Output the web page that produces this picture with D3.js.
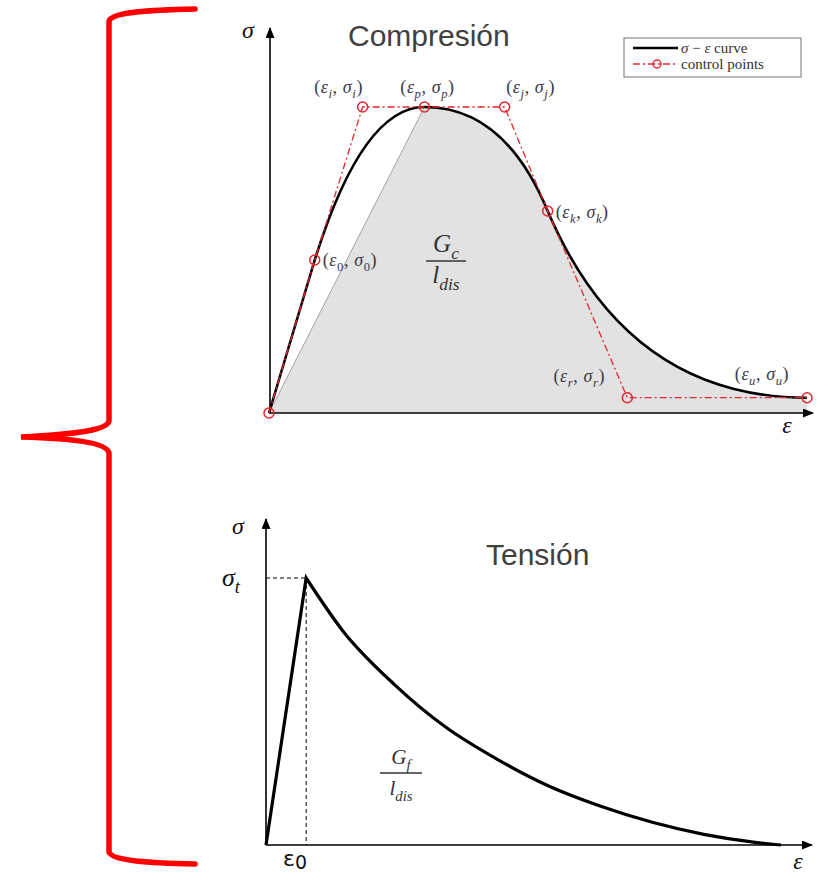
<meta charset="utf-8">
<title>Compresión / Tensión</title>
<style>body{margin:0;background:#fff}</style>
<body>
<script src="https://cdn.jsdelivr.net/npm/d3@7"></script>
<script>
//==================================================================
// data: compression control points (strain units, normalised stress)
var ctrlNames = ["", "0", "i", "p", "j", "k", "r", "u"];
var ctrlEps   = [0, 0.85, 1.74, 2.89, 4.38, 5.18, 6.66, 10];
var ctrlSig   = [0, 0.50, 1.00, 1.00, 1.00, 0.66, 0.05, 0.05];

// data: tension softening curve
var tenEps = [0, 0.78, 1.5, 2.5, 3.5, 4.5, 5.5, 6.5, 7.5, 8.5, 9.5, 10];
var tenSig = [0, 1, 0.80, 0.60, 0.44, 0.32, 0.22, 0.145, 0.085, 0.04, 0.01, 0];

var legendText = [["σ", " − ", "ε", " curve"], ["control points"]];
//==================================================================
var width = 820,
    height = 876;

var red = '#e4262e',
    serif = "'Liberation Serif', 'DejaVu Serif', serif",
    sans = "'Liberation Sans', Arial, sans-serif";

var svg = d3.select("body").append("svg")
    .attr("width", width)
    .attr("height", height)
    .style('display', 'block');

svg.append('defs').append('marker')
    .attr('id', 'arrow')
    .attr('markerUnits', 'userSpaceOnUse')
    .attr('markerWidth', 11).attr('markerHeight', 9)
    .attr('refX', 10).attr('refY', 4.5)
    .attr('orient', 'auto')
  .append('path')
    .attr('d', 'M0,0L11,4.5L0,9Z')
    .style('fill', 'black');

// writes a small math label: parts = [text, italic, subscript]
function mathText(g, x, y, size, anchor, parts, fill, spacing) {
  var t = g.append('text')
      .attr('x', x).attr('y', y)
      .attr('text-anchor', anchor)
      .style('font-family', serif)
      .style('font-size', size + 'px')
      .style('letter-spacing', (spacing || 0) + 'px')
      .style('fill', fill || '#333');
  var shift = 0;
  parts.forEach(function(p) {
    var dy = (p[2] ? size * 0.28 : 0) - shift;
    shift += dy;
    t.append('tspan')
      .attr('dy', dy)
      .style('font-style', p[1] ? 'italic' : 'normal')
      .style('font-size', (p[2] ? size * 0.7 : size) + 'px')
      .text(p[0]);
  });
  return t;
}

function fraction(g, cx, y, size, num, den, barW) {
  mathText(g, cx, y, size, 'middle', num, '#333');
  g.append('line')
    .attr('x1', cx - barW / 2).attr('x2', cx + barW / 2)
    .attr('y1', y + 9).attr('y2', y + 9)
    .style('stroke', '#333').style('stroke-width', 1.4);
  mathText(g, cx, y + 31, size, 'middle', den, '#333');
}

//brace=============================================================
svg.append('path')
    .attr('d', 'M195,9 C150,10 112,12 109,21 L109,421 C107,432 60,435 21,437 ' +
               'C60,438 107,441 109,453 L109,852 C112,861 150,863 195,864')
    .style('fill', 'none')
    .style('stroke', '#ff0000')
    .style('stroke-width', 5.5)
    .style('stroke-linecap', 'round');

//compression=======================================================
var xc = d3.scaleLinear().domain([0, 10]).range([269, 807]);
var yc = d3.scaleLinear().domain([0, 1]).range([413, 107]);
var gc = svg.append('g');

var P = ctrlEps.map(function(e, i) { return [xc(e), yc(ctrlSig[i])]; });

// shaded area: secant to peak, then the curve, back along the axis
var area = d3.path();
area.moveTo(P[0][0], P[0][1]);
area.lineTo(P[3][0], P[3][1]);
area.quadraticCurveTo(P[4][0], P[4][1], P[5][0], P[5][1]);
area.quadraticCurveTo(P[6][0], P[6][1], P[7][0], P[7][1]);
area.lineTo(P[7][0], yc(0));
area.closePath();
gc.append('path').attr('d', area.toString())
    .style('fill', '#e2e2e2');

gc.append('line')
    .attr('x1', P[0][0]).attr('y1', P[0][1])
    .attr('x2', P[3][0]).attr('y2', P[3][1])
    .style('stroke', '#9a9a9a').style('stroke-width', 0.9);

// axes
gc.append('line')
    .attr('x1', xc(0)).attr('y1', yc(0))
    .attr('x2', 813).attr('y2', yc(0))
    .attr('marker-end', 'url(#arrow)')
    .style('stroke', 'black').style('stroke-width', 1.6);
gc.append('line')
    .attr('x1', xc(0) + 1).attr('y1', yc(0))
    .attr('x2', xc(0) + 1).attr('y2', 28)
    .attr('marker-end', 'url(#arrow)')
    .style('stroke', 'black').style('stroke-width', 1.6);

// sigma-epsilon curve
var curve = d3.path();
curve.moveTo(P[0][0], P[0][1]);
curve.lineTo(P[1][0], P[1][1]);
curve.quadraticCurveTo(P[2][0], P[2][1], P[3][0], P[3][1]);
curve.quadraticCurveTo(P[4][0], P[4][1], P[5][0], P[5][1]);
curve.quadraticCurveTo(P[6][0], P[6][1], P[7][0], P[7][1]);
gc.append('path').attr('d', curve.toString())
    .style('fill', 'none')
    .style('stroke', 'black')
    .style('stroke-width', 2.6);

// control polygon
gc.append('path')
    .attr('d', d3.line()(P))
    .style('fill', 'none')
    .style('stroke', red)
    .style('stroke-width', 1.3)
    .style('stroke-dasharray', '7,3,2,3');
gc.selectAll('circle.cp')
    .data(P)
    .enter().append('circle')
    .attr('class', 'cp')
    .attr('cx', function(d) { return d[0]; })
    .attr('cy', function(d) { return d[1]; })
    .attr('r', 5)
    .style('fill', 'none')
    .style('stroke', red)
    .style('stroke-width', 1.5);

// point labels
var labelOff = {
  "0": [8, 6, 'start'], "i": [-24, -14, 'middle'], "p": [3, -14, 'middle'],
  "j": [26, -14, 'middle'], "k": [8, 7, 'start'], "r": [-48, -16, 'middle'],
  "u": [-45, -18, 'middle']
};
ctrlNames.forEach(function(n, i) {
  if (!n) return;
  var o = labelOff[n];
  var sub = n === "0" ? [n, false, true] : [n, true, true];
  mathText(gc, P[i][0] + o[0], P[i][1] + o[1], 18, o[2], [
    ['(', false], ['ε', true], sub, [', ', false], ['σ', true],
    n === "0" ? ['0', false, true] : [n, true, true], [')', false]
  ], '#3a3a48', 0.6);
});

fraction(gc, 446, 252, 25, [['G', true], ['c', true, true]],
         [['l', true], ['dis', true, true]], 40);

mathText(gc, 248, 38, 24, 'middle', [['σ', true]], '#111');
mathText(gc, 787, 433, 24, 'middle', [['ε', true]], '#111');

gc.append('text')
    .attr('x', 348).attr('y', 46)
    .style('font-family', sans)
    .style('font-size', '30px')
    .style('fill', '#404040')
    .text('Compresión');

// legend
var lg = gc.append('g').attr('transform', 'translate(624,38)');
lg.append('rect')
    .attr('width', 177).attr('height', 39)
    .style('fill', 'white')
    .style('stroke', '#8a8a8a').style('stroke-width', 1.2);
lg.append('line')
    .attr('x1', 9).attr('x2', 54).attr('y1', 10).attr('y2', 10)
    .style('stroke', 'black').style('stroke-width', 2.5);
lg.append('line')
    .attr('x1', 9).attr('x2', 54).attr('y1', 26).attr('y2', 26)
    .style('stroke', red).style('stroke-width', 1.3)
    .style('stroke-dasharray', '7,3,2,3');
lg.append('circle')
    .attr('cx', 33).attr('cy', 26).attr('r', 4)
    .style('fill', 'none').style('stroke', red).style('stroke-width', 1.4);
mathText(lg, 57, 15, 15, 'start', legendText[0].map(function(s, i) {
  return [s, i === 0 || i === 2];
}), '#333');
mathText(lg, 57, 31, 15, 'start', [[legendText[1][0], false]], '#333');

//tension===========================================================
var xt = d3.scaleLinear().domain([0, 10]).range([266, 781]);
var yt = d3.scaleLinear().domain([0, 1]).range([845, 578]);
var gt = svg.append('g');

// dashed guides to peak
gt.append('line')
    .attr('x1', xt(0)).attr('x2', xt(tenEps[1]))
    .attr('y1', yt(tenSig[1])).attr('y2', yt(tenSig[1]))
    .style('stroke', 'black').style('stroke-width', 1)
    .style('stroke-dasharray', '4,3');
gt.append('line')
    .attr('x1', xt(tenEps[1])).attr('x2', xt(tenEps[1]))
    .attr('y1', yt(tenSig[1])).attr('y2', yt(0))
    .style('stroke', 'black').style('stroke-width', 1)
    .style('stroke-dasharray', '4,3');

gt.append('line')
    .attr('x1', xt(0)).attr('y1', yt(0))
    .attr('x2', 812).attr('y2', yt(0))
    .attr('marker-end', 'url(#arrow)')
    .style('stroke', 'black').style('stroke-width', 1.6);
gt.append('line')
    .attr('x1', xt(0)).attr('y1', yt(0))
    .attr('x2', xt(0)).attr('y2', 519)
    .attr('marker-end', 'url(#arrow)')
    .style('stroke', 'black').style('stroke-width', 1.6);

var tenPts = tenEps.map(function(e, i) { return [xt(e), yt(tenSig[i])]; });
gt.append('path')
    .attr('d', d3.line()(tenPts.slice(0, 2)) +
               d3.line().curve(d3.curveMonotoneX)(tenPts.slice(1)).replace(/^M/, 'L'))
    .style('fill', 'none')
    .style('stroke', 'black')
    .style('stroke-width', 3.2)
    .style('stroke-linejoin', 'miter');

mathText(gt, 238, 534, 24, 'middle', [['σ', true]], '#111');
mathText(gt, 222, 586, 26, 'start', [['σ', true], ['t', true, true]], '#111');
mathText(gt, 798, 869, 24, 'middle', [['ε', true]], '#111');
gt.append('text')
    .attr('x', 283).attr('y', 866)
    .style('font-family', "'DejaVu Sans', sans-serif")
    .style('font-size', '22px')
    .style('fill', '#111')
    .text('ε')
  .append('tspan')
    .attr('dy', 3)
    .style('font-size', '19px')
    .text('0');

fraction(gt, 401, 764, 21, [['G', true], ['f', true, true]],
         [['l', true], ['dis', true, true]], 42);

gt.append('text')
    .attr('x', 486).attr('y', 565)
    .style('font-family', sans)
    .style('font-size', '30px')
    .style('fill', '#404040')
    .text('Tensión');
</script>
